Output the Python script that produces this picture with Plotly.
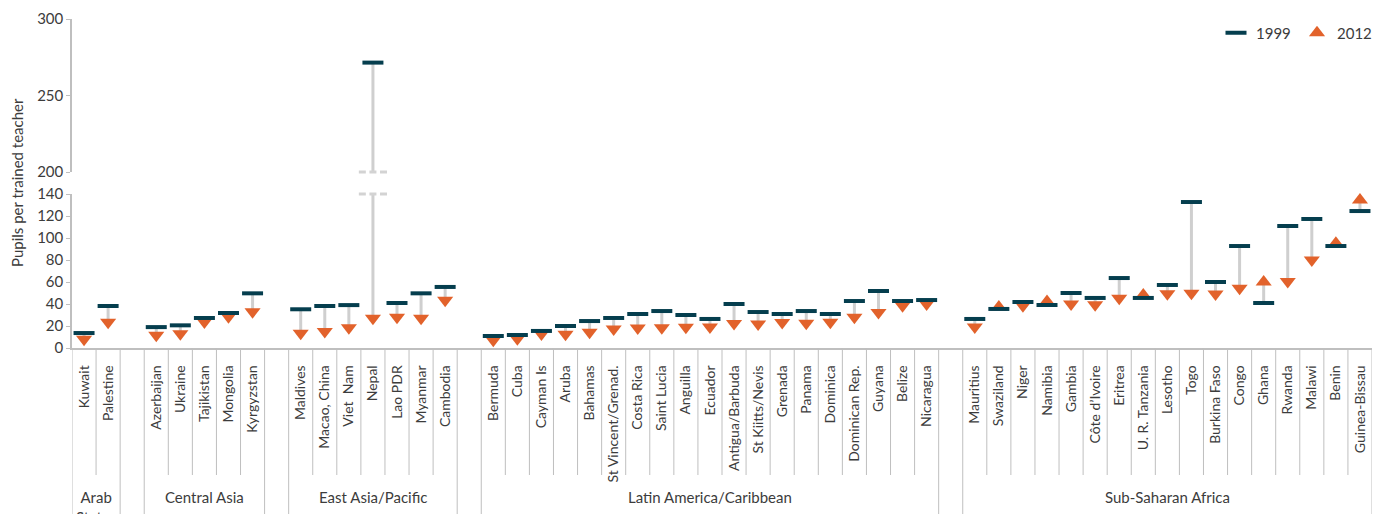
import plotly.graph_objects as go

# ---------------- data ----------------
groups = ["Arab<br>States", "Central Asia", "East Asia/Pacific",
          "Latin America/Caribbean", "Sub-Saharan Africa"]

arab = ["Kuwait", "Palestine"]
arab_1999 = [13.6, 38.2]
arab_2012 = [8.0, 23.5]

central = ["Azerbaijan", "Ukraine", "Tajikistan", "Mongolia", "Kyrgyzstan"]
central_1999 = [19.0, 20.6, 27.3, 31.8, 49.7]
central_2012 = [11.5, 13.0, 23.6, 28.3, 33.0]

eastasia = ["Maldives", "Macao, China", "Viet  Nam", "Nepal", "Lao PDR",
            "Myanmar", "Cambodia"]
eastasia_1999 = [35.2, 38.2, 39.0, 271.5, 40.9, 49.7, 55.5]
eastasia_2012 = [13.4, 14.9, 18.4, 27.0, 27.9, 27.0, 43.4]

latam = ["Bermuda", "Cuba", "Cayman Is", "Aruba", "Bahamas",
         "St Vincent/Grenad.", "Costa Rica", "Saint Lucia", "Anguilla",
         "Ecuador", "Antigua/Barbuda", "St Kiitts/Nevis", "Grenada", "Panama",
         "Dominica", "Dominican Rep.", "Guyana", "Belize", "Nicaragua"]
latam_1999 = [10.9, 11.8, 15.5, 20.0, 24.5, 27.3, 30.9, 33.6, 30.0, 26.4,
              40.0, 32.7, 30.9, 33.6, 30.9, 42.7, 51.8, 42.7, 43.6]
latam_2012 = [7.0, 8.5, 12.7, 12.5, 14.3, 17.3, 18.2, 18.4, 18.8, 19.0,
              22.3, 21.8, 23.2, 22.5, 23.5, 27.9, 32.3, 38.5, 40.0]

ssa = ["Mauritius", "Swaziland", "Niger", "Namibia", "Gambia",
       "Côte d’Ivoire", "Eritrea", "U. R. Tanzania", "Lesotho", "Togo",
       "Burkina Faso", "Congo", "Ghana", "Rwanda", "Malawi", "Benin",
       "Guinea-Bissau"]
ssa_1999 = [26.4, 35.5, 41.8, 39.1, 50.0, 45.5, 63.6, 45.5, 57.3, 132.7,
            60.0, 92.7, 40.9, 110.9, 117.3, 92.7, 124.5]
ssa_2012 = [19.0, 37.3, 38.5, 42.2, 39.9, 39.3, 45.2, 48.2, 49.4, 49.7,
            49.1, 54.3, 59.9, 60.5, 80.0, 95.2, 134.5]

lower_ticks = [0, 20, 40, 60, 80, 100, 120, 140]
upper_ticks = [200, 250, 300]

# ---------------- build positions (one empty slot between groups) ----------------
group_members = [arab, central, eastasia, latam, ssa]
group_1999 = [arab_1999, central_1999, eastasia_1999, latam_1999, ssa_1999]
group_2012 = [arab_2012, central_2012, eastasia_2012, latam_2012, ssa_2012]

names, xs, v99, v12 = [], [], [], []
group_spans = []
pos = 0
for gi, members in enumerate(group_members):
    start = pos
    for j, n in enumerate(members):
        names.append(n)
        xs.append(pos)
        v99.append(group_1999[gi][j])
        v12.append(group_2012[gi][j])
        pos += 1
    group_spans.append((start, pos - 1))
    if gi < len(group_members) - 1:
        pos += 1  # gap slot
n_slots = pos

lo_max = lower_ticks[-1]
hi_min = upper_ticks[0]

C_DARK = "#053E4E"
C_ORANGE = "#E2622B"
C_CONN = "#CFCFCF"
C_AXIS = "#BFBFBF"
C_TEXT = "#3C3C3C"
FONT = "Lato"

fig = go.Figure()

# connectors (drawn on both axis segments; clipping does the break)
cx, cy = [], []
for x, a, b in zip(xs, v99, v12):
    cx += [x, x, None]
    cy += [a, b, None]
for yax in ["y", "y2"]:
    fig.add_trace(go.Scatter(x=cx, y=cy, mode="lines", yaxis=yax,
                             line=dict(color=C_CONN, width=3),
                             showlegend=False, hoverinfo="skip"))

# axis-break marks for values beyond the lower segment
bx = []
for x, a in zip(xs, v99):
    if a > lo_max:
        for off in (-0.44, 0, 0.44):
            bx.append(x + off)
for yax, yv in (("y", lo_max), ("y2", hi_min)):
    fig.add_trace(go.Scatter(x=bx, y=[yv] * len(bx), mode="markers", yaxis=yax,
                             marker=dict(symbol="line-ew", size=5,
                                         line=dict(color="#D3D3D3", width=3)),
                             cliponaxis=False, showlegend=False, hoverinfo="skip"))

# 2012 triangles
up_x = [x for x, a, b in zip(xs, v99, v12) if b >= a]
up_y = [b for a, b in zip(v99, v12) if b >= a]
dn_x = [x for x, a, b in zip(xs, v99, v12) if b < a]
dn_y = [b for a, b in zip(v99, v12) if b < a]
fig.add_trace(go.Scatter(x=dn_x, y=dn_y, mode="markers", name="2012",
                         marker=dict(symbol="triangle-down", size=14, color=C_ORANGE),
                         cliponaxis=False, showlegend=False, legendgroup="2012"))
fig.add_trace(go.Scatter(x=up_x, y=up_y, mode="markers", name="2012",
                         marker=dict(symbol="triangle-up", size=14, color=C_ORANGE),
                         cliponaxis=False, legendgroup="2012", legendrank=2))

# 1999 dashes (lower and upper segment)
fig.add_trace(go.Scatter(x=xs, y=v99, mode="markers", name="1999",
                         marker=dict(symbol="line-ew", size=15,
                                     line=dict(color=C_DARK, width=4)),
                         cliponaxis=False, legendrank=1))
fig.add_trace(go.Scatter(x=xs, y=v99, mode="markers", name="1999", yaxis="y2",
                         marker=dict(symbol="line-ew", size=15,
                                     line=dict(color=C_DARK, width=4)),
                         cliponaxis=False, showlegend=False))

# ---------------- layout ----------------
W, H = 1374, 514
ml, mr, mt, mb = 72, 2, 19, 166
pw = W - ml - mr
ph = H - mt - mb


def py(pix):
    """pixel row -> paper y"""
    return (H - mb - pix) / ph


def px(pix):
    """pixel column -> paper x"""
    return (pix - ml) / pw


shapes = []
long_b = set()
for s, e in group_spans:
    long_b.add(s - 0.5)
    long_b.add(e + 0.5)
for k in range(n_slots + 1):
    b = k - 0.5
    y1 = py(530) if b in long_b else py(475)
    shapes.append(dict(type="line", xref="x", yref="paper", x0=b, x1=b,
                       y0=0, y1=y1, line=dict(color=C_AXIS, width=1)))

annotations = []
for g, (s, e) in zip(groups, group_spans):
    annotations.append(dict(text=g, x=(s + e) / 2, y=py(486), xref="x", yref="paper",
                            xanchor="center", yanchor="top", showarrow=False,
                            font=dict(family=FONT, size=15, color=C_TEXT)))
annotations.append(dict(text="Pupils per trained teacher", x=px(17),
                        y=py(183), xref="paper", yref="paper", textangle=-90,
                        xanchor="center", yanchor="middle", showarrow=False,
                        font=dict(family=FONT, size=15, color=C_TEXT)))

fig.update_layout(
    width=W, height=H,
    margin=dict(l=ml, r=mr, t=mt, b=mb, autoexpand=False),
    paper_bgcolor="white", plot_bgcolor="white",
    font=dict(family=FONT, size=14, color=C_TEXT),
    xaxis=dict(range=[-0.5, n_slots - 0.5], tickvals=xs, ticktext=names,
               tickangle=-90, ticks="", showgrid=False, zeroline=False,
               showline=True, linecolor=C_AXIS, linewidth=1.5,
               ticklabelstandoff=10, tickfont=dict(size=14, color=C_TEXT),
               anchor="y", automargin=False),
    yaxis=dict(domain=[0, py(194)], range=[0, lo_max], tickvals=lower_ticks,
               ticks="outside", ticklen=4, tickcolor=C_AXIS, showgrid=False,
               zeroline=False, showline=True, linecolor=C_AXIS, linewidth=1.5,
               tickfont=dict(size=15, color=C_TEXT), anchor="x", automargin=False),
    yaxis2=dict(domain=[py(172), 1], range=[hi_min, upper_ticks[-1]],
                tickvals=upper_ticks, ticks="outside", ticklen=4, tickcolor=C_AXIS,
                showgrid=False, zeroline=False, showline=True, linecolor=C_AXIS,
                linewidth=1.5, tickfont=dict(size=15, color=C_TEXT), anchor="x",
                automargin=False),
    legend=dict(orientation="h", x=px(1216), y=py(33), entrywidth=36,
                xanchor="left", yanchor="middle", font=dict(size=15, color=C_TEXT),
                bgcolor="rgba(0,0,0,0)", traceorder="normal"),
    shapes=shapes, annotations=annotations, showlegend=True,
)

fig.write_html("out.html", config={"displayModeBar": False},
               post_script="document.body.style.margin='0';"
                           "document.body.style.overflow='hidden';")
